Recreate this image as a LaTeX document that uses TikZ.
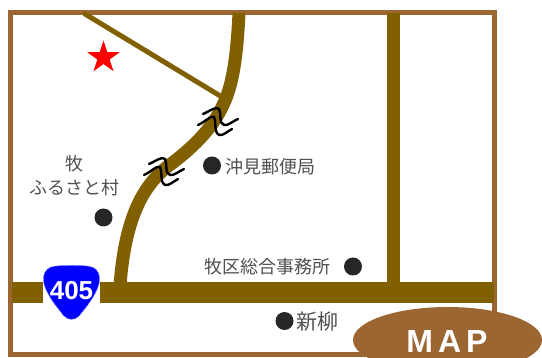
\documentclass[tikz,border=0pt]{standalone}
\usepackage{fontspec}
\usetikzlibrary{shapes.geometric}
\setmainfont{Liberation Sans}
\newfontfamily\jpfont{Noto Sans CJK JP}
\definecolor{framec}{HTML}{9C6633}
\definecolor{roadc}{HTML}{806000}
\definecolor{dotc}{HTML}{262626}
\definecolor{labelc}{HTML}{505050}
\tikzset{
  x=1pt,y=-1pt,
  road/.style={draw=roadc,line width=#1},
  dotmark/.style={circle,fill=dotc,minimum size=18pt,inner sep=0pt},
  maplabel/.style={font=\jpfont\fontsize{18}{20}\selectfont,text=labelc,inner sep=0pt},
  breakline/.style={draw=black,line width=2.4pt,line cap=round},
}
\newcommand{\breakmark}[2]{%
  \begin{scope}[shift={(#1,#2)}]
    \draw[breakline] (-15,-8) .. controls (-8,-11) and (-2,-16) .. (1,-13) .. controls (4,-8) and (0,1) .. (6,3) .. controls (10,4) and (15,-1) .. (20,-3);
    \draw[breakline] (-20,3) .. controls (-13,0) and (-7,-7) .. (-4,-5) .. controls (-1,0) and (-5,9) .. (1,13) .. controls (5,14) and (10,9) .. (14,7);
  \end{scope}}
\begin{document}
\begin{tikzpicture}
\useasboundingbox (0,0) rectangle (542,358);
\clip (0,0) rectangle (542,358);
\fill[white] (0,0) rectangle (542,358);
% frame
\draw[framec,line width=5pt] (10.5,12.5) rectangle (494.5,354.5);
% roads
\draw[road=5pt,line cap=round] (85,14) -- (222,97);
\draw[road=13pt] (239,13) .. controls (237,55) and (233,85) .. (223,105) .. controls (212,130) and (190,150) .. (167,167) .. controls (135,192) and (124,235) .. (120,285);
\draw[road=13pt] (393.5,13) -- (393.5,285);
\fill[roadc] (12,282.5) rectangle (494,303.5);
% break marks
\breakmark{218}{122}
\breakmark{164}{172}
% star
\node[star,star points=5,star point ratio=2.618,fill=red,minimum size=34pt,inner sep=0pt] (site) at (103.5,57.5) {};
% points
\node[dotmark] (okimi) at (212,165.5) {};
\node[dotmark] (furusato) at (103.5,217.5) {};
\node[dotmark] (office) at (353,266.5) {};
\node[dotmark] (shinyanagi) at (284.5,321) {};
% labels
\node[maplabel] (l1) at (75,163.5) {牧};
\node[maplabel] (l2) at (74.5,188) {ふるさと村};
\node[maplabel,anchor=west] (l3) at (225,166.5) {沖見郵便局};
\node[maplabel,anchor=west] (l4) at (204,267) {牧区総合事務所};
\node[maplabel,anchor=west,font=\jpfont\fontsize{21}{23}\selectfont] (l5) at (296,321.5) {新柳};
% shield
\fill[white] (43,265) rectangle (100,321);
\filldraw[fill=blue,draw=blue!60,line width=0.8pt,densely dotted]
  (71.5,265.5) .. controls (80,265.5) and (88,265.5) .. (93,267.5)
  .. controls (98,270) and (100,275) .. (99.5,281)
  .. controls (98,292) and (88,305) .. (79,316)
  .. controls (75,320.5) and (68,320.5) .. (64,316)
  .. controls (55,305) and (45,292) .. (43.5,281)
  .. controls (43,275) and (45,270) .. (50,267.5)
  .. controls (55,265.5) and (63,265.5) .. (71.5,265.5) -- cycle;
\node[text=white,inner sep=0pt,font=\bfseries\fontsize{26}{26}\selectfont] (route) at (71.5,290.5) {405};
% badge
\node[ellipse,fill=framec,minimum width=189pt,minimum height=66pt,inner sep=0pt] (badge) at (447.5,340) {};
\node[text=white,inner sep=0pt,font=\bfseries\fontsize{32}{32}\selectfont] (maptext) at (447,341) {M\hspace{5pt}A\hspace{5pt}P};
\end{tikzpicture}
\end{document}
